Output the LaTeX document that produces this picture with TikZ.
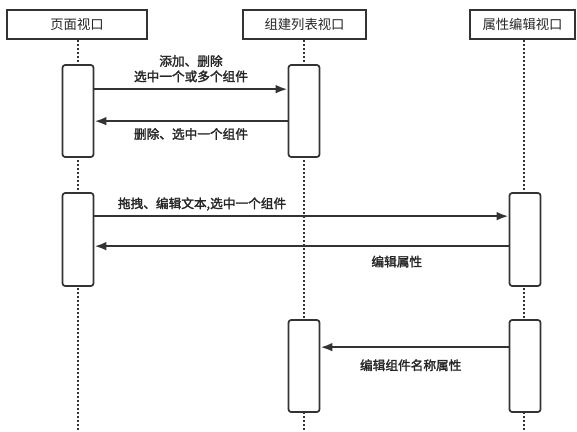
\documentclass[tikz,border=0pt]{standalone}
\usepackage{fontspec}
\newfontfamily\cjk{Noto Sans CJK SC}
\newfontfamily\cjkb[FakeBold=2]{Noto Sans CJK SC}
\usetikzlibrary{arrows.meta}
\begin{document}
\begin{tikzpicture}[x=0.75pt,y=-0.75pt,
    head/.style={draw=black!80,line width=1.3pt,fill=white,minimum height=21.75pt,
        font=\cjk\fontsize{10}{12}\selectfont,text=black!85},
    act/.style={draw=black!80,line width=1.3pt,rounded corners=2pt,fill=white,minimum width=23.25pt},
    life/.style={black!80,line width=2pt,dash pattern=on 1.6pt off 1.4pt},
    msg/.style={black!80,line width=1.7pt,-{Latex[length=9pt,width=6.5pt]}},
    lbl/.style={font=\cjkb\fontsize{9.5}{11.5}\selectfont,text=black!85,align=center}]
    \useasboundingbox (0,0) rectangle (577,431);
    % heads
    \node[head,minimum width=105pt] (pv) at (77,24.5) {页面视口};
    \node[head,minimum width=92.25pt] (cl) at (304.5,24.5) {组建列表视口};
    \node[head,minimum width=78.75pt] (pe) at (522.5,24.5) {属性编辑视口};
    \coordinate (pvend) at (78,430);
    \coordinate (clend) at (304,430);
    \coordinate (peend) at (524,430);
    \draw[life] (pv.south -| pvend) -- (pvend);
    \draw[life] (cl.south -| clend) -- (clend);
    \draw[life] (pe.south -| peend) -- (peend);
    % activations
    \node[act,minimum height=69pt] (a1) at (78,111) {};
    \node[act,minimum height=69pt] (a2) at (304,111) {};
    \node[act,minimum height=69.75pt] (b1) at (78,239.5) {};
    \node[act,minimum height=69.75pt] (b3) at (525,239.5) {};
    \node[act,minimum height=69pt] (c2) at (304,366) {};
    \node[act,minimum height=69pt] (c3) at (525,366) {};
    % messages
    \draw[msg] ([yshift=-18.75pt]a1.north east) -- node[lbl,above,yshift=1pt] {添加、删除\\选中一个或多个组件} ([yshift=-18.75pt]a2.north west);
    \draw[msg] ([yshift=-42.75pt]a2.north west) -- node[lbl,below,yshift=-1pt] {删除、选中一个组件} ([yshift=-42.75pt]a1.north east);
    \draw[msg] ([yshift=-18pt]b1.north east) -- node[lbl,above,pos=0.26] {拖拽、编辑文本,选中一个组件} ([yshift=-18pt]b3.north west);
    \draw[msg] ([yshift=-40.5pt]b3.north west) -- node[lbl,below,pos=0.27,yshift=-3pt] {编辑属性} ([yshift=-40.5pt]b1.north east);
    \draw[msg] ([yshift=-21pt]c3.north west) -- node[lbl,below,pos=0.52,yshift=-5pt] {编辑组件名称属性} ([yshift=-21pt]c2.north east);
\end{tikzpicture}
\end{document}
